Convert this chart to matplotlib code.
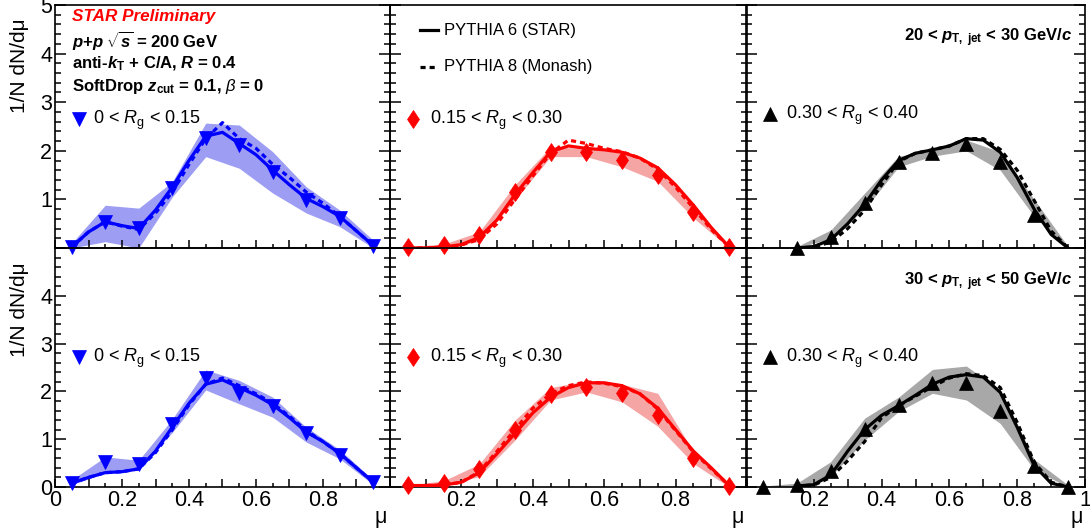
import matplotlib
matplotlib.use("Agg")
import matplotlib.pyplot as plt
from matplotlib.lines import Line2D
from matplotlib.ticker import FixedLocator, MultipleLocator
import numpy as np

nan = np.nan

# bin centres of the measured points and the grid the PYTHIA curves are read on
mu_bins = [0.05, 0.15, 0.25, 0.35, 0.45, 0.55, 0.65, 0.75, 0.85, 0.95]
mu_curve = [0.05, 0.10, 0.15, 0.20, 0.25, 0.30, 0.35, 0.40, 0.45, 0.50,
            0.55, 0.60, 0.65, 0.70, 0.75, 0.80, 0.85, 0.90, 0.95]

# 20 < pT,jet < 30 GeV/c
low_rg1_data = [0.02, 0.54, 0.41, 1.23, 2.26, 2.12, 1.57, 0.99, 0.61, 0.05]
low_rg1_lo = [0.00, 0.13, 0.00, 1.05, 1.88, 1.64, 1.13, 0.72, 0.44, 0.00]
low_rg1_hi = [0.10, 0.88, 0.82, 1.36, 2.57, 2.53, 1.98, 1.26, 0.78, 0.16]
low_rg1_p6 = [0.02, 0.33, 0.54, 0.46, 0.40, 0.78, 1.25, 1.80, 2.30, 2.38,
              2.15, 1.92, 1.60, 1.30, 1.02, 0.85, 0.65, 0.35, 0.05]
low_rg1_p8 = [0.02, 0.33, 0.54, 0.45, 0.38, 0.72, 1.15, 1.72, 2.25, 2.58,
              2.25, 2.05, 1.72, 1.45, 1.15, 0.92, 0.65, 0.35, 0.05]

low_rg2_data = [0.03, 0.06, 0.27, 1.16, 1.98, 1.98, 1.81, 1.50, 0.75, 0.03]
low_rg2_lo = [0.00, 0.02, 0.13, 0.99, 1.88, 1.88, 1.67, 1.37, 0.62, 0.00]
low_rg2_hi = [0.03, 0.08, 0.33, 1.30, 2.08, 2.05, 1.96, 1.67, 0.86, 0.03]
low_rg2_p6 = [0.00, 0.00, 0.02, 0.07, 0.22, 0.58, 1.10, 1.55, 1.98, 2.10,
              2.05, 2.02, 1.97, 1.85, 1.65, 1.30, 0.88, 0.42, 0.02]
low_rg2_p8 = [0.00, 0.00, 0.02, 0.06, 0.18, 0.50, 1.00, 1.48, 1.95, 2.22,
              2.15, 2.05, 1.98, 1.85, 1.62, 1.25, 0.82, 0.38, 0.02]

low_rg3_data = [nan, 0.00, 0.23, 0.93, 1.76, 1.95, 2.15, 1.76, 0.68, nan]
low_rg3_lo = [nan, 0.00, 0.20, 0.80, 1.67, 1.89, 2.00, 1.60, 0.65, 0.00]
low_rg3_hi = [nan, 0.03, 0.37, 1.13, 1.89, 2.00, 2.22, 1.98, 1.00, 0.03]
low_rg3_p6 = [nan, nan, 0.00, 0.03, 0.17, 0.50, 0.90, 1.40, 1.80, 1.95,
              2.02, 2.10, 2.25, 2.22, 1.97, 1.45, 0.80, 0.28, 0.00]
low_rg3_p8 = [nan, nan, 0.00, 0.02, 0.12, 0.40, 0.78, 1.30, 1.78, 1.95,
              2.02, 2.10, 2.25, 2.25, 2.03, 1.60, 0.98, 0.35, 0.00]

# 30 < pT,jet < 50 GeV/c
high_rg1_data = [0.08, 0.53, 0.48, 1.32, 2.29, 1.96, 1.70, 1.12, 0.67, 0.11]
high_rg1_lo = [0.05, 0.29, 0.38, 1.14, 2.03, 1.74, 1.46, 0.94, 0.59, 0.05]
high_rg1_hi = [0.15, 0.63, 0.56, 1.42, 2.45, 2.23, 1.88, 1.25, 0.78, 0.15]
high_rg1_p6 = [0.08, 0.20, 0.30, 0.32, 0.38, 0.75, 1.25, 1.75, 2.15, 2.24,
               2.08, 1.92, 1.72, 1.45, 1.15, 0.95, 0.70, 0.40, 0.10]
high_rg1_p8 = [0.08, 0.20, 0.30, 0.32, 0.38, 0.72, 1.20, 1.72, 2.15, 2.28,
               2.12, 1.95, 1.75, 1.48, 1.18, 0.95, 0.70, 0.40, 0.10]

high_rg2_data = [0.04, 0.09, 0.37, 1.19, 1.95, 2.10, 1.96, 1.51, 0.60, 0.02]
high_rg2_lo = [0.00, 0.03, 0.22, 0.98, 1.82, 1.99, 1.78, 1.27, 0.49, 0.00]
high_rg2_hi = [0.04, 0.13, 0.48, 1.40, 2.08, 2.22, 2.15, 1.96, 0.74, 0.03]
high_rg2_p6 = [0.03, 0.03, 0.04, 0.10, 0.30, 0.70, 1.12, 1.55, 1.88, 2.08,
               2.18, 2.18, 2.12, 1.95, 1.65, 1.20, 0.75, 0.40, 0.03]
high_rg2_p8 = [0.03, 0.03, 0.04, 0.10, 0.32, 0.75, 1.20, 1.65, 1.95, 2.12,
               2.20, 2.17, 2.10, 1.95, 1.63, 1.18, 0.73, 0.38, 0.03]

high_rg3_data = [0.00, 0.04, 0.34, 1.21, 1.72, 2.18, 2.17, 1.58, 0.44, 0.00]
high_rg3_lo = [0.00, 0.00, 0.22, 0.98, 1.58, 1.96, 1.82, 1.33, 0.36, 0.00]
high_rg3_hi = [0.02, 0.08, 0.53, 1.44, 1.88, 2.46, 2.53, 2.03, 0.58, 0.04]
high_rg3_p6 = [nan, nan, 0.02, 0.05, 0.25, 0.75, 1.20, 1.50, 1.70, 1.92,
               2.15, 2.30, 2.35, 2.30, 1.98, 1.25, 0.45, 0.08, 0.00]
high_rg3_p8 = [nan, nan, 0.02, 0.04, 0.20, 0.55, 0.95, 1.45, 1.70, 1.90,
               2.10, 2.28, 2.37, 2.33, 2.08, 1.35, 0.52, 0.10, 0.00]

rg_labels = [r"0 < $\mathit{R}_{\mathrm{g}}$ < 0.15",
             r"0.15 < $\mathit{R}_{\mathrm{g}}$ < 0.30",
             r"0.30 < $\mathit{R}_{\mathrm{g}}$ < 0.40"]
pt_labels = [r"20 < $\mathbfit{p}_{\mathbf{T,\ jet}}$ < 30 GeV/$\mathbfit{c}$",
             r"30 < $\mathbfit{p}_{\mathbf{T,\ jet}}$ < 50 GeV/$\mathbfit{c}$"]

x_ticks = [0.0, 0.1, 0.2, 0.3, 0.4, 0.5, 0.6, 0.7, 0.8, 0.9, 1.0]
x_ticklabels = [
    ["0", "", "0.2", "", "0.4", "", "0.6", "", "0.8", "", ""],
    ["", "", "0.2", "", "0.4", "", "0.6", "", "0.8", "", ""],
    ["", "", "0.2", "", "0.4", "", "0.6", "", "0.8", "", "1"],
]
y_ticks = [0, 1, 2, 3, 4, 5]
y_ticklabels_top = ["", "1", "2", "3", "4", "5"]
y_ticklabels_bottom = ["0", "1", "2", "3", "4", ""]

# colours / markers per Rg bin
line_colors = ["#0000ff", "#ff0000", "#000000"]
band_colors = ["#9d9df4", "#f6a5a5", "#a8a8a8"]
markers = ["v", "d", "^"]
marker_sizes = [10, 9.5, 10]

rows = [
    [(low_rg1_data, low_rg1_lo, low_rg1_hi, low_rg1_p6, low_rg1_p8),
     (low_rg2_data, low_rg2_lo, low_rg2_hi, low_rg2_p6, low_rg2_p8),
     (low_rg3_data, low_rg3_lo, low_rg3_hi, low_rg3_p6, low_rg3_p8)],
    [(high_rg1_data, high_rg1_lo, high_rg1_hi, high_rg1_p6, high_rg1_p8),
     (high_rg2_data, high_rg2_lo, high_rg2_hi, high_rg2_p6, high_rg2_p8),
     (high_rg3_data, high_rg3_lo, high_rg3_hi, high_rg3_p6, high_rg3_p8)],
]

plt.rcParams["font.family"] = ["Liberation Sans", "DejaVu Sans"]
plt.rcParams["mathtext.fontset"] = "custom"
plt.rcParams["mathtext.rm"] = "Liberation Sans"
plt.rcParams["mathtext.it"] = "Liberation Sans:italic"
plt.rcParams["mathtext.bf"] = "Liberation Sans:bold"
plt.rcParams["mathtext.bfit"] = "Liberation Sans:bold:italic"

W, H = 1090, 532
fig = plt.figure(figsize=(W / 100, H / 100), dpi=100)


def fx(x):
    return x / W


def fy(y):
    return 1 - y / H


# panel frames in pixels: (left, right) per column, (top, bottom) per row
col_px = [(55, 390), (390, 747), (746, 1085)]
row_px = [(5, 248), (248, 487)]

dash = (1.6, 1.25)

for r, (top, bot) in enumerate(row_px):
    for c, (left, right) in enumerate(col_px):
        ax = fig.add_axes([fx(left), fy(bot), (right - left) / W, (bot - top) / H])
        ax.set_facecolor("none")
        data, lo, hi, p6, p8 = rows[r][c]
        ax.fill_between(mu_bins, lo, hi, color=band_colors[c], lw=0, zorder=1)
        ax.plot(mu_curve, p6, color=line_colors[c], lw=2.3, zorder=3)
        ax.plot(mu_curve, p8, color=line_colors[c], lw=2.3, dashes=dash, zorder=3)
        ax.plot(mu_bins, data, ls="none", marker=markers[c], ms=marker_sizes[c],
                color=line_colors[c], mec=line_colors[c], mew=0.5, zorder=4,
                clip_on=False)

        ax.set_xlim(0, 1)
        ax.set_ylim(0, 5)
        ax.xaxis.set_major_locator(FixedLocator(x_ticks))
        ax.xaxis.set_minor_locator(MultipleLocator(0.05))
        ax.yaxis.set_major_locator(FixedLocator(y_ticks))
        ax.yaxis.set_minor_locator(MultipleLocator(0.2))
        ax.tick_params(which="both", direction="in", top=False, left=True, right=True,
                       labelsize=15.5, width=1.1, pad=2)
        ax.tick_params(axis="y", which="major", length=8)
        ax.tick_params(axis="y", which="minor", length=4.5)
        ax.tick_params(axis="x", which="major", length=5.5)
        ax.tick_params(axis="x", which="minor", length=3)
        for sp in ax.spines.values():
            sp.set_linewidth(1.2)

        if r == 1:
            ax.set_xticklabels(x_ticklabels[c])
        else:
            ax.set_xticklabels([])
        if c == 0:
            ax.set_yticklabels(y_ticklabels_top if r == 0 else y_ticklabels_bottom)
        else:
            ax.set_yticklabels([])

        # Rg legend entry
        my = 119 if r == 0 else 357
        mx = [79, 413, 770][c]
        tx = [93, 430, 786][c]
        if c == 2 and r == 0:
            my = 114
        fig.add_artist(Line2D([fx(mx)], [fy(my)], ls="none", marker=markers[c],
                              ms=marker_sizes[c], mew=0.5, color=line_colors[c]))
        fig.text(fx(tx), fy(my + 1), rg_labels[c], fontsize=13, va="center", ha="left")

# y axis titles
for ytop in [18, 262]:
    fig.text(fx(20), fy(ytop), "1/N dN/dμ", rotation=90, fontsize=15,
             va="top", ha="center")

# x axis titles
for xc in [381, 738, 1077]:
    fig.text(fx(xc), fy(517), "μ", fontsize=15.5, ha="center", va="center")

# header text
fig.text(fx(72), fy(16), "STAR Preliminary", color="#ff0000", fontsize=12.3,
         fontweight="bold", fontstyle="italic", va="center")
fig.text(fx(72), fy(40), r"$\mathbfit{p}$+$\mathbfit{p}$ $\sqrt{\mathbfit{s}}$ = 200 GeV",
         fontsize=12, fontweight="bold", va="center")
fig.text(fx(72), fy(64), r"anti-$\mathbfit{k}_{\mathbf{T}}$ + C/A, $\mathbfit{R}$ = 0.4",
         fontsize=12, fontweight="bold", va="center")
fig.text(fx(72), fy(87), r"SoftDrop $\mathbfit{z}_{\mathbf{cut}}$ = 0.1, $\beta$ = 0",
         fontsize=12, fontweight="bold", va="center")

# pT bin labels
fig.text(fx(1072), fy(38), pt_labels[0], fontsize=12, fontweight="bold",
         ha="right", va="center")
fig.text(fx(1072), fy(282), pt_labels[1], fontsize=12, fontweight="bold",
         ha="right", va="center")

# model legend
fig.add_artist(Line2D([fx(420), fx(438)], [fy(30), fy(30)], color="black", lw=2.3))
fig.add_artist(Line2D([fx(420), fx(438)], [fy(67), fy(67)], color="black", lw=2.3,
                      dashes=dash))
fig.text(fx(444), fy(30), "PYTHIA 6 (STAR)", fontsize=12, va="center")
fig.text(fx(444), fy(67), "PYTHIA 8 (Monash)", fontsize=12, va="center")

fig.savefig("out.png", dpi=100)
